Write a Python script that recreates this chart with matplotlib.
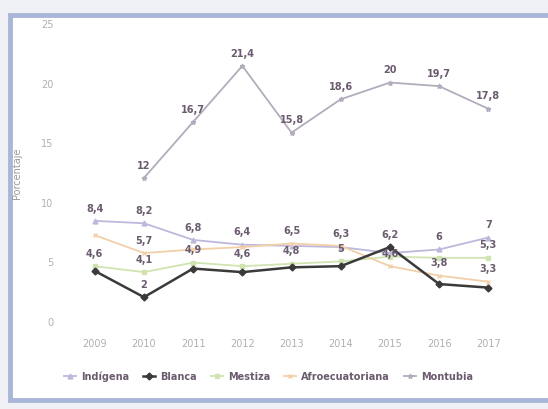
import numpy as np
import matplotlib.pyplot as plt
from matplotlib.patches import FancyBboxPatch

# data
years = ["2009", "2010", "2011", "2012", "2013", "2014", "2015", "2016", "2017"]
indigena = [8.4, 8.2, 6.8, 6.4, 6.3, 6.2, 5.7, 6.0, 7.0]
blanca = [4.2, 2.0, 4.4, 4.1, 4.5, 4.6, 6.2, 3.1, 2.8]
mestiza = [4.6, 4.1, 4.9, 4.6, 4.8, 5.0, 5.4, 5.3, 5.3]
afro = [7.2, 5.7, 6.0, 6.2, 6.5, 6.3, 4.6, 3.8, 3.3]
montubia = [np.nan, 12, 16.7, 21.4, 15.8, 18.6, 20, 19.7, 17.8]

# which years carry a visible data label in the reference
lab_indigena = ["2009", "2010", "2011", "2012", "2016", "2017"]
lab_blanca = ["2010", "2015"]
lab_mestiza = ["2009", "2010", "2011", "2012", "2013", "2014", "2017"]
lab_afro = ["2010", "2013", "2014", "2015", "2016", "2017"]
lab_montubia = years[1:]

series = [
    ("Indígena", indigena, lab_indigena, "#bdb8dc", "^", 1.3),
    ("Blanca", blanca, lab_blanca, "#3a3a3a", "D", 1.8),
    ("Mestiza", mestiza, lab_mestiza, "#cfe4b0", "s", 1.3),
    ("Afroecuatoriana", afro, lab_afro, "#f2cfa8", "x", 1.3),
    ("Montubia", montubia, lab_montubia, "#b3acbc", "*", 1.3),
]

fig = plt.figure(figsize=(5.48, 4.10), dpi=100)
fig.patch.set_facecolor("#eef0f6")

# white card with bluish frame, like the screenshot
card = FancyBboxPatch((0.018, 0.022), 1.0, 0.94, boxstyle="square,pad=0",
                      transform=fig.transFigure, facecolor="white",
                      edgecolor="#aab6d8", linewidth=3.5, zorder=-10)
fig.add_artist(card)

ax = fig.add_axes([0.128, 0.2146, 0.808, 0.727])
ax.set_facecolor("none")
ax.set_zorder(2)
x = np.arange(len(years))

for name, vals, labs, color, marker, lw in series:
    ax.plot(x, vals, color=color, lw=lw, marker=marker, markersize=3.5,
            label=name, zorder=3 if name == "Blanca" else 2)
    for i, (yr, v) in enumerate(zip(years, vals)):
        if yr in labs and not np.isnan(v):
            txt = f"{v:g}".replace(".", ",")
            ax.annotate(txt, (i, v), xytext=(0, 6), textcoords="offset points",
                        ha="center", va="bottom", fontsize=7, fontweight="bold",
                        color="#6b5b6e", zorder=5)

ax.set_xlim(-0.5, len(years) - 0.5)
ax.set_ylim(0, 25)
ax.set_yticks([0, 5, 10, 15, 20, 25])
ax.set_xticks(x)
ax.set_xticklabels(years)
ax.tick_params(length=0, labelsize=7, colors="#b0b0b0", pad=12)
for s in ax.spines.values():
    s.set_visible(False)
ax.set_ylabel("Porcentaje", fontsize=7, color="#9a9a9a", labelpad=14)

fig.legend(loc="center", bbox_to_anchor=(0.49, 0.08), ncol=5, frameon=False,
           handlelength=1.2, handletextpad=0.5, columnspacing=1.5,
           prop={"size": 7, "weight": "bold"}, labelcolor="#6b5b6e")

fig.savefig("out.png", dpi=100, facecolor=fig.get_facecolor())
